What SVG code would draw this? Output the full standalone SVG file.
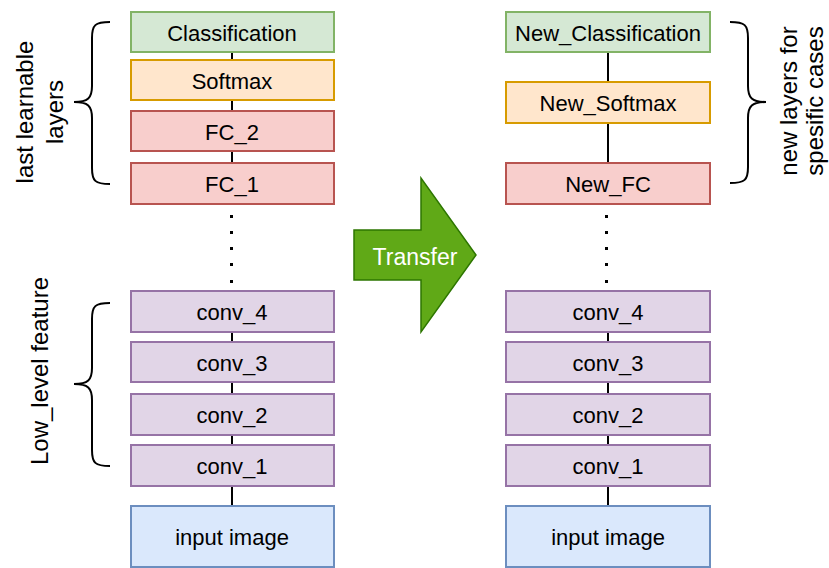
<svg xmlns="http://www.w3.org/2000/svg" width="829" height="568" viewBox="0 0 829 568">
  <defs>
    <style>
      .box { stroke-width: 2; }
      .green { fill: #d5e8d4; stroke: #82b366; }
      .orange { fill: #ffe6cc; stroke: #d79b00; }
      .red { fill: #f8cecc; stroke: #b85450; }
      .purple { fill: #e1d5e7; stroke: #9673a6; }
      .blue { fill: #dae8fc; stroke: #6c8ebf; }
      .lbl { font-family: "Liberation Sans", Arial, sans-serif; font-size: 22px; fill: #000; text-anchor: middle; }
      .side { font-family: "Liberation Sans", Arial, sans-serif; font-size: 24px; fill: #000; text-anchor: middle; }
      .edge { stroke: #000; stroke-width: 2; fill: none; }
      .brace { stroke: #000; stroke-width: 2; fill: none; }
      .dot { fill: #000; }
    </style>
  </defs>

  <!-- connectors -->
  <g id="connectors">
    <line class="edge" x1="232" y1="52" x2="232" y2="60"/>
    <line class="edge" x1="232" y1="100" x2="232" y2="111"/>
    <line class="edge" x1="232" y1="151" x2="232" y2="163"/>
    <line class="edge" x1="232" y1="332" x2="232" y2="342"/>
    <line class="edge" x1="232" y1="382" x2="232" y2="394"/>
    <line class="edge" x1="232" y1="435" x2="232" y2="445"/>
    <line class="edge" x1="232" y1="486" x2="232" y2="506"/>
    <line class="edge" x1="608" y1="52" x2="608" y2="82"/>
    <line class="edge" x1="608" y1="123" x2="608" y2="163"/>
    <line class="edge" x1="608" y1="332" x2="608" y2="342"/>
    <line class="edge" x1="608" y1="382" x2="608" y2="394"/>
    <line class="edge" x1="608" y1="435" x2="608" y2="445"/>
    <line class="edge" x1="608" y1="486" x2="608" y2="506"/>
  </g>

  <!-- elided layers -->
  <g id="dots-left">
    <rect class="dot" x="230" y="215" width="3" height="3"/>
    <rect class="dot" x="230" y="231" width="3" height="3"/>
    <rect class="dot" x="230" y="247" width="3" height="3"/>
    <rect class="dot" x="230" y="263" width="3" height="3"/>
    <rect class="dot" x="230" y="280" width="3" height="3"/>
  </g>
  <g id="dots-right">
    <rect class="dot" x="605" y="215" width="3" height="3"/>
    <rect class="dot" x="605" y="231" width="3" height="3"/>
    <rect class="dot" x="605" y="247" width="3" height="3"/>
    <rect class="dot" x="605" y="263" width="3" height="3"/>
    <rect class="dot" x="605" y="280" width="3" height="3"/>
  </g>

  <!-- original network -->
  <g id="classification"><rect class="box green" x="131" y="12" width="203" height="40"/><text class="lbl" x="232" y="41">Classification</text></g>
  <g id="softmax"><rect class="box orange" x="131" y="60" width="203" height="40"/><text class="lbl" x="232" y="89">Softmax</text></g>
  <g id="fc2"><rect class="box red" x="131" y="111" width="203" height="40"/><text class="lbl" x="232" y="140">FC_2</text></g>
  <g id="fc1"><rect class="box red" x="131" y="163" width="203" height="41"/><text class="lbl" x="232" y="192">FC_1</text></g>
  <g id="conv4"><rect class="box purple" x="131" y="291" width="203" height="41"/><text class="lbl" x="232" y="320">conv_4</text></g>
  <g id="conv3"><rect class="box purple" x="131" y="342" width="203" height="40"/><text class="lbl" x="232" y="371">conv_3</text></g>
  <g id="conv2"><rect class="box purple" x="131" y="394" width="203" height="41"/><text class="lbl" x="232" y="423">conv_2</text></g>
  <g id="conv1"><rect class="box purple" x="131" y="445" width="203" height="41"/><text class="lbl" x="232" y="474">conv_1</text></g>
  <g id="input"><rect class="box blue" x="131" y="506" width="203" height="61"/><text class="lbl" x="232" y="545">input image</text></g>

  <!-- transferred network -->
  <g id="new-classification"><rect class="box green" x="506" y="12" width="204" height="40"/><text class="lbl" x="608" y="41">New_Classification</text></g>
  <g id="new-softmax"><rect class="box orange" x="506" y="82" width="204" height="41"/><text class="lbl" x="608" y="111">New_Softmax</text></g>
  <g id="new-fc"><rect class="box red" x="506" y="163" width="204" height="41"/><text class="lbl" x="608" y="192">New_FC</text></g>
  <g id="r-conv4"><rect class="box purple" x="506" y="291" width="204" height="41"/><text class="lbl" x="608" y="320">conv_4</text></g>
  <g id="r-conv3"><rect class="box purple" x="506" y="342" width="204" height="40"/><text class="lbl" x="608" y="371">conv_3</text></g>
  <g id="r-conv2"><rect class="box purple" x="506" y="394" width="204" height="41"/><text class="lbl" x="608" y="423">conv_2</text></g>
  <g id="r-conv1"><rect class="box purple" x="506" y="445" width="204" height="41"/><text class="lbl" x="608" y="474">conv_1</text></g>
  <g id="r-input"><rect class="box blue" x="506" y="506" width="204" height="61"/><text class="lbl" x="608" y="545">input image</text></g>

  <!-- transfer arrow -->
  <g id="transfer">
    <path d="M354,230 H421 V178 L476,255 L421,332 V280 H354 Z" fill="#60a917" stroke="#2d7600" stroke-width="1.5"/>
    <text x="415" y="265" font-family="'Liberation Sans', Arial, sans-serif" font-size="23" fill="#fff" text-anchor="middle">Transfer</text>
  </g>

  <!-- braces and their captions -->
  <g id="brace-last">
    <path class="brace" d="M110,22 C95,22 92,25 92,38 V86 C92,98 88,102 74,102 C88,102 92,106 92,118 V168 C92,181 95,184 110,184"/>
    <text class="side" transform="translate(0,112) rotate(-90)"><tspan x="0" y="33">last learnable</tspan><tspan x="0" y="63">layers</tspan></text>
  </g>
  <g id="brace-low">
    <path class="brace" d="M110,303 C95,303 92,306 92,319 V368 C92,380 88,384 74,384 C88,384 92,388 92,400 V450 C92,463 95,466 110,466"/>
    <text class="side" transform="translate(0,371) rotate(-90)"><tspan x="0" y="48">Low_level feature</tspan></text>
  </g>
  <g id="brace-new">
    <path class="brace" d="M730,22 C745,22 748,25 748,38 V86 C748,98 752,102 766,102 C752,102 748,106 748,118 V167 C748,180 745,183 730,183"/>
    <text class="side" transform="translate(0,101) rotate(-90)"><tspan x="0" y="797">new layers for</tspan><tspan x="0" y="823">spesific cases</tspan></text>
  </g>
</svg>
